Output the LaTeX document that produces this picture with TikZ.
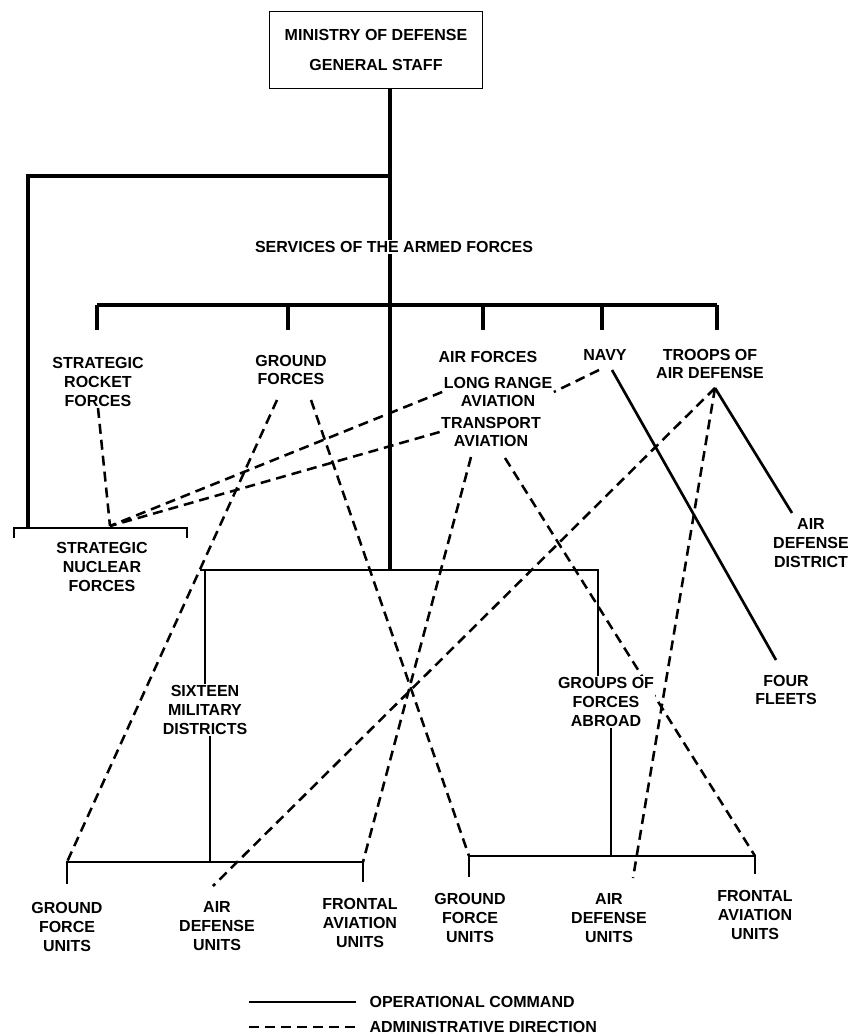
\documentclass[tikz,border=0pt]{standalone}
\usepackage{fontspec}
\setmainfont{Liberation Sans}
\usetikzlibrary{backgrounds}

\begin{document}
\begin{tikzpicture}[x=0.75pt,y=-0.75pt,
  lbl/.style={font=\bfseries\fontsize{12}{14}\selectfont,align=center,inner sep=1pt},
  opthick/.style={line width=2.6pt},
  opline/.style={line width=2pt},
  admline/.style={line width=1.9pt,dash pattern=on 7.5pt off 4.5pt}]
\useasboundingbox (0,0) rectangle (848,1034);

% Ministry and services
\node[lbl,draw,line width=1.2pt,minimum width=160pt,minimum height=58pt] (mod) at (376,50) {MINISTRY OF DEFENSE\\[8pt]GENERAL STAFF};
\node[lbl] (serv) at (394,247) {SERVICES OF THE ARMED FORCES};
\coordinate (trunk) at (390,176);

% Services
\node[lbl] (srf) at (98,382) {STRATEGIC\\ROCKET\\FORCES};
\node[lbl] (gf) at (291,370) {GROUND\\FORCES};
\node[lbl] (af) at (488,357) {AIR FORCES};
\node[lbl] (lra) at (498,392) {LONG RANGE\\AVIATION};
\node[lbl] (ta) at (491,432) {TRANSPORT\\AVIATION};
\node[lbl] (navy) at (605,355) {NAVY};
\node[lbl] (tad) at (710,364) {TROOPS OF\\AIR DEFENSE};
\node[lbl] (addist) at (811,543) {AIR\\DEFENSE\\DISTRICT};

% Commands
\node[lbl] (snf) at (102,567) {STRATEGIC\\NUCLEAR\\FORCES};
\node[lbl] (smd) at (205,710) {SIXTEEN\\MILITARY\\DISTRICTS};
\node[lbl,fill=white] (gfa) at (606,702) {GROUPS OF\\FORCES\\ABROAD};
\node[lbl] (fleets) at (786,690) {FOUR\\FLEETS};

% Units
\node[lbl] (gfuL) at (67,927) {GROUND\\FORCE\\UNITS};
\node[lbl] (aduL) at (217,926) {AIR\\DEFENSE\\UNITS};
\node[lbl] (fauL) at (360,923) {FRONTAL\\AVIATION\\UNITS};
\node[lbl] (gfuR) at (470,918) {GROUND\\FORCE\\UNITS};
\node[lbl] (aduR) at (609,918) {AIR\\DEFENSE\\UNITS};
\node[lbl] (fauR) at (755,915) {FRONTAL\\AVIATION\\UNITS};

% Legend
\node[lbl,anchor=west] (legop) at (368,1002) {OPERATIONAL COMMAND};
\node[lbl,anchor=west] (legadm) at (368,1027) {ADMINISTRATIVE DIRECTION};
\coordinate (legA) at (249,1002);
\coordinate (legB) at (249,1027);

% bracket points
\coordinate (sideL) at (28,528);
\coordinate (snfL) at (14,528);
\coordinate (snfR) at (187,528);
\coordinate (snfTop) at (110,526);
\coordinate (grpL) at (200,570);
\coordinate (grpR) at (598,570);
\coordinate (lbL) at (67,862);
\coordinate (lbC) at (210,862);
\coordinate (lbR) at (363,862);
\coordinate (rbL) at (469,856);
\coordinate (rbC) at (611,856);
\coordinate (rbR) at (755,856);
\coordinate (gfS1) at (277,400);
\coordinate (gfS2) at (311,400);
\coordinate (taS1) at (471,457);
\coordinate (taS2) at (505,458);
\coordinate (navyS1) at (599,370);
\coordinate (navyS2) at (612,370);
\coordinate (tadS) at (715,388);
\coordinate (addistN) at (792,513);
\coordinate (fleetsN) at (776,660);
\coordinate (aduLtop) at (213,886);
\coordinate (aduRtop) at (633,878);

\begin{scope}[on background layer]
% operational command
\draw[opthick] (mod.south -| trunk) -- (serv.north -| trunk);
\draw[opthick] (trunk) -| (sideL);
\draw[opthick] (97,305) -- (717,305);
\foreach \x in {97,288,483,602,717}
  \draw[opthick] (\x,305) -- (\x,330);
\draw[opthick] (serv.south -| trunk) -- (trunk |- grpL);
\draw[opline] (snfL) ++(0,10) -- (snfL) -- (snfR) -- ++(0,10);
\draw[opline] (smd.north) |- (grpL) -- (grpR) -- (gfa.north -| grpR);
\draw[opline] (smd.south -| lbC) -- (lbC);
\draw[opline] (gfa.south -| rbC) -- (rbC);
\draw[opline] (lbL) ++(0,22) -- (lbL) -- (lbR) -- ++(0,20);
\draw[opline] (rbL) ++(0,21) -- (rbL) -- (rbR) -- ++(0,18);
\draw[opline] (navyS2) -- (fleetsN);
\draw[opline] (tadS) -- (addistN);

% administrative direction
\draw[admline] (srf.south) -- (snfTop);
\draw[admline] (lra.west) -- (snfTop);
\draw[admline] (ta.west) -- (snfTop);
\draw[admline] (navyS1) -- (lra.east);
\draw[admline] (gfS1) -- (lbL);
\draw[admline] (gfS2) -- (rbL);
\draw[admline] (taS1) -- (lbR);
\draw[admline] (taS2) -- (rbR);
\draw[admline] (tadS) -- (aduLtop);
\draw[admline] (tadS) -- (aduRtop);

% legend
\draw[opline] (legA) -- ++(107,0);
\draw[admline] (legB) -- ++(107,0);
\end{scope}
\end{tikzpicture}
\end{document}
